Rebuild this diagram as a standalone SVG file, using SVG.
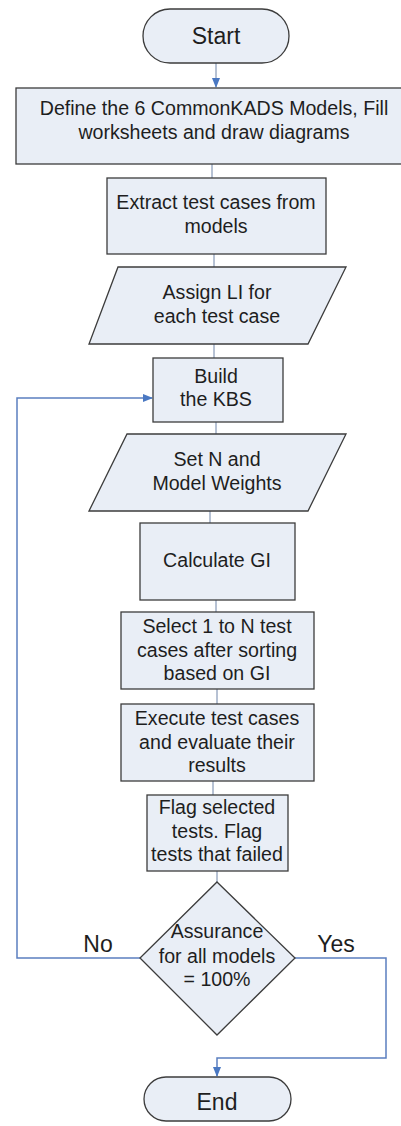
<svg xmlns="http://www.w3.org/2000/svg" width="401" height="1126" viewBox="0 0 401 1126">
<defs>
<marker id="ah" markerWidth="10" markerHeight="10" refX="9" refY="5" orient="auto" markerUnits="userSpaceOnUse">
<path d="M0,1 L10,5 L0,9 Z" fill="#4a78c2"/>
</marker>
<style>
.n{fill:#e9eef6;stroke:#3c3c3c;stroke-width:1.3}
.t{font-family:"Liberation Sans",Arial,sans-serif;font-size:19.6px;fill:#1e1e1e;text-anchor:middle}
.big{font-size:23px}
.c{fill:none;stroke:#6f84a8;stroke-width:1}
.b{fill:none;stroke:#5b7fc0;stroke-width:1.5}
</style>
</defs>
<rect width="401" height="1126" fill="#ffffff"/>
<g id="connectors">
<line class="c" x1="216" y1="63" x2="216" y2="87" marker-end="url(#ah)"/>
<line class="c" x1="212" y1="164" x2="212" y2="178"/>
<line class="c" x1="214" y1="254" x2="214" y2="267"/>
<line class="c" x1="214" y1="344" x2="214" y2="358"/>
<line class="c" x1="216" y1="422" x2="216" y2="434"/>
<line class="c" x1="210" y1="511" x2="210" y2="523"/>
<line class="c" x1="216" y1="600" x2="216" y2="612"/>
<line class="c" x1="217" y1="689" x2="217" y2="704"/>
<line class="c" x1="213" y1="781" x2="213" y2="795"/>
<line class="c" x1="217" y1="871" x2="217" y2="882"/>
<path class="b" d="M140,958 H17 V398 H152" marker-end="url(#ah)"/>
<path class="b" d="M295,958 H386 V1058 H217 V1076" marker-end="url(#ah)"/>
</g>
<g id="start">
<rect class="n" x="143" y="9" width="146" height="54" rx="27"/>
<text class="t big" x="216" y="44">Start</text>
</g>
<g id="define">
<rect class="n" x="16" y="88" width="390" height="76"/>
<text class="t" x="214" y="115">Define the 6 CommonKADS Models, Fill</text>
<text class="t" x="214" y="139">worksheets and draw diagrams</text>
</g>
<g id="extract">
<rect class="n" x="107" y="178" width="219" height="76"/>
<text class="t" x="216" y="209">Extract test cases from</text>
<text class="t" x="216" y="233">models</text>
</g>
<g id="assign">
<polygon class="n" points="118,267 346,267 308,344 89,344"/>
<text class="t" x="217" y="299">Assign LI for</text>
<text class="t" x="217" y="323">each test case</text>
</g>
<g id="build">
<rect class="n" x="153" y="358" width="130" height="64"/>
<text class="t" x="216" y="383">Build</text>
<text class="t" x="216" y="406">the KBS</text>
</g>
<g id="setn">
<polygon class="n" points="127,434 346,434 308,511 89,511"/>
<text class="t" x="217" y="466">Set N and</text>
<text class="t" x="217" y="490">Model Weights</text>
</g>
<g id="calc">
<rect class="n" x="140" y="523" width="155" height="77"/>
<text class="t" x="217" y="567">Calculate GI</text>
</g>
<g id="select">
<rect class="n" x="121" y="612" width="193" height="77"/>
<text class="t" x="217" y="633">Select 1 to N test</text>
<text class="t" x="217" y="657">cases after sorting</text>
<text class="t" x="217" y="680">based on GI</text>
</g>
<g id="execute">
<rect class="n" x="121" y="704" width="193" height="77"/>
<text class="t" x="217" y="725">Execute test cases</text>
<text class="t" x="217" y="749">and evaluate their</text>
<text class="t" x="217" y="772">results</text>
</g>
<g id="flag">
<rect class="n" x="147" y="795" width="141" height="76"/>
<text class="t" x="217" y="814">Flag selected</text>
<text class="t" x="217" y="838">tests. Flag</text>
<text class="t" x="217" y="861">tests that failed</text>
</g>
<g id="decision">
<polygon class="n" points="217,882 295,958 217,1035 140,958"/>
<text class="t" x="217" y="938">Assurance</text>
<text class="t" x="217" y="963">for all models</text>
<text class="t" x="217" y="986">= 100%</text>
</g>
<g id="labels">
<text class="t big" x="98" y="952">No</text>
<text class="t big" x="336" y="952">Yes</text>
</g>
<g id="end">
<rect class="n" x="144" y="1077" width="147" height="44" rx="22"/>
<text class="t big" x="217" y="1110">End</text>
</g>
</svg>
